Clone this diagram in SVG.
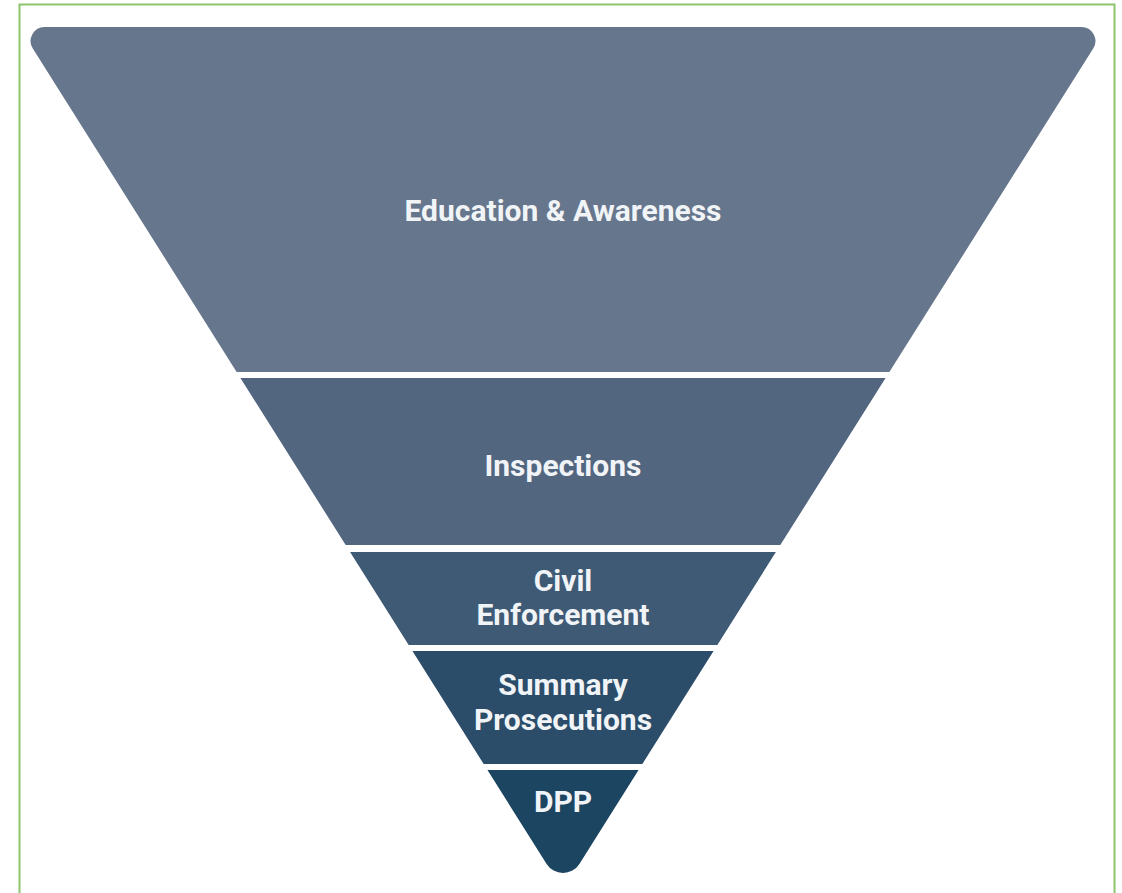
<svg xmlns="http://www.w3.org/2000/svg" width="1122" height="893" viewBox="0 0 1122 893">
  <style>
    .lbl { font-family: Roboto, "Liberation Sans", sans-serif; font-weight: bold; font-size: 30px; fill: #f1f4f7; text-anchor: middle; }
  </style>
  <defs>
    <clipPath id="funnel">
      <path d="M44.7,27 L1081.3,27 A14,14 0 0 1 1093.2,48.5 L579.4,863.9 A19.4,19.4 0 0 1 546.6,863.9 L32.8,48.5 A14,14 0 0 1 44.7,27 Z"/>
    </clipPath>
  </defs>
  <rect x="0" y="0" width="1122" height="893" fill="#ffffff"/>
  <rect x="19.5" y="4.5" width="1095" height="900" fill="none" stroke="#8cc46c" stroke-width="2"/>
  <g clip-path="url(#funnel)">
    <g id="education">
      <rect x="0" y="0" width="1122" height="372" fill="#66768c"/>
      <text class="lbl" x="563" y="221">Education &amp; Awareness</text>
    </g>
    <g id="inspections">
      <rect x="0" y="378" width="1122" height="167" fill="#526680"/>
      <text class="lbl" x="563" y="476">Inspections</text>
    </g>
    <g id="civil">
      <rect x="0" y="552" width="1122" height="93" fill="#3f5a75"/>
      <text class="lbl" x="563" y="591">Civil</text>
      <text class="lbl" x="563" y="625">Enforcement</text>
    </g>
    <g id="summary">
      <rect x="0" y="651" width="1122" height="113" fill="#2b4d69"/>
      <text class="lbl" x="563" y="695">Summary</text>
      <text class="lbl" x="563" y="730">Prosecutions</text>
    </g>
    <g id="dpp">
      <rect x="0" y="770" width="1122" height="130" fill="#1c4562"/>
      <text class="lbl" x="563" y="812">DPP</text>
    </g>
  </g>
  <g id="connectors"/>
</svg>
